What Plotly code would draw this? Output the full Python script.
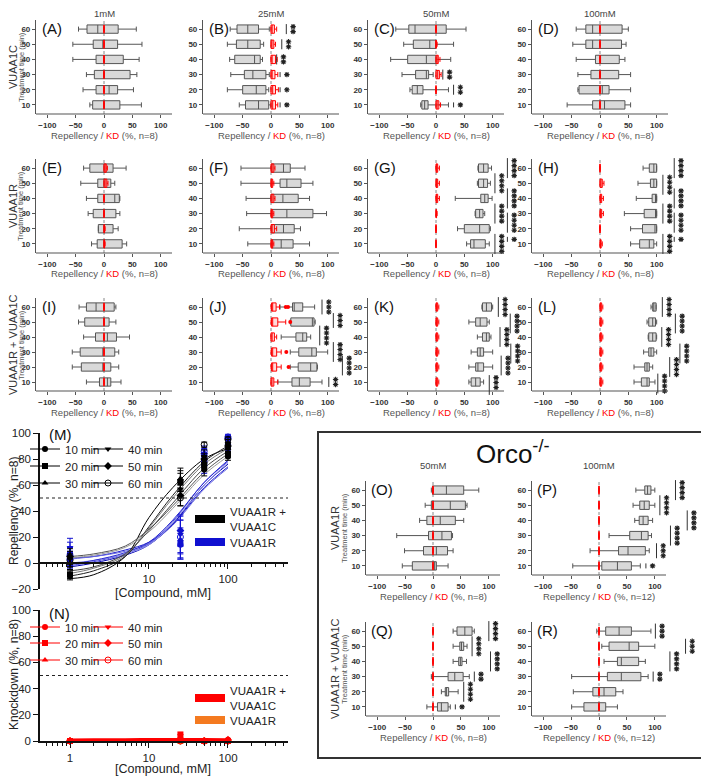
import plotly.graph_objects as go

W, H = 709, 778
OFF = 8                    # page margin around the plot div
times = [10, 20, 30, 40, 50, 60]
xticks = [-100, -50, 0, 50, 100]
XAX = [-120, 120]          # visible x axis
XR = [-120, 175]           # plotted x range (room for significance marks)
YR = [4, 66]

# ── box data: rows are 10..60 min, each [min, q1, median, q3, max] ──
rep_A = [[-25, -20, 0, 28, 66], [-37, -14, 9, 24, 52], [-31, -17, 0, 46, 58],
         [-55, -14, 0, 34, 62], [-55, -19, -2, 24, 67], [-45, -30, -11, 25, 57]]
rep_B = [[-56, -45, -22, -4, 0], [-77, -50, -26, -9, -4], [-71, -47, -32, -9, -3],
         [-73, -64, -29, -19, -15], [-77, -61, -41, -19, -13], [-72, -60, -41, -22, -3]]
rep_C = [[-27, -25, -20, -14, 22], [-46, -42, -33, -23, 22], [-60, -36, -17, -13, -5],
         [-80, -50, -17, 0, 26], [-57, -40, -11, 0, 31], [-71, -48, -37, 18, 53]]
rep_D = [[-58, -13, 8, 44, 54], [-39, -37, 4, 16, 54], [-39, -16, 0, 33, 54],
         [-42, -8, 1, 34, 44], [-48, -25, -13, 38, 46], [-42, -25, -13, 39, 50]]
rep_E = [[-22, -12, 0, 32, 40], [-10, -10, 0, 16, 25], [-28, -19, 0, 21, 28],
         [-31, -11, 19, 27, 28], [-41, -11, 0, 12, 19], [-36, -25, 0, 16, 39]]
rep_F = [[-41, 2, 18, 39, 68], [-56, 1, 22, 41, 52], [-43, 1, 28, 74, 98],
         [-44, 0, 21, 48, 68], [-53, 16, 28, 53, 74], [-53, 1, 22, 34, 60]]
rep_G = [[54, 61, 67, 87, 94], [38, 50, 77, 94, 96], [69, 70, 77, 83, 86],
         [34, 79, 86, 92, 99], [73, 75, 84, 91, 96], [74, 75, 84, 92, 98]]
rep_H = [[54, 70, 87, 95, 100], [54, 75, 97, 100, 100], [43, 78, 98, 100, 100],
         [64, 92, 98, 100, 100], [67, 89, 95, 100, 100], [76, 87, 95, 100, 100]]
rep_I = [[-31, -8, 6, 12, 30], [-56, -40, -2, 12, 26], [-56, -42, -2, 19, 26],
         [-36, -15, 6, 22, 45], [-45, -34, 0, 9, 21], [-44, -31, -14, 18, 21]]
rep_J = [[12, 37, 50, 69, 90], [34, 48, 70, 81, 82], [34, 49, 72, 80, 100],
         [18, 44, 56, 63, 70], [34, 35, 73, 76, 78], [16, 38, 41, 56, 77]]
rep_K = [[58, 62, 70, 78, 84], [58, 70, 74, 84, 100], [62, 73, 78, 84, 100],
         [73, 82, 89, 94, 97], [58, 70, 78, 90, 94], [81, 82, 89, 98, 100]]
rep_L = [[60, 73, 83, 87, 97], [60, 79, 83, 87, 93], [77, 86, 90, 95, 100],
         [85, 86, 93, 99, 100], [83, 86, 93, 98, 100], [90, 93, 95, 99, 99]]
rep_O = [[-55, -37, 3, 6, 27], [-51, -17, 6, 26, 36], [-65, -8, 16, 33, 35],
         [-24, -11, 13, 40, 55], [-14, -3, 31, 58, 61], [-3, -1, 24, 55, 82]]
rep_P = [[-47, 5, 33, 58, 74], [-16, 35, 52, 83, 90], [18, 55, 76, 88, 94],
         [64, 72, 79, 88, 96], [61, 73, 81, 90, 100], [66, 82, 87, 93, 100]]
rep_Q = [[-11, 8, 15, 27, 31], [15, 22, 24, 28, 45], [-3, 27, 39, 54, 65],
         [36, 46, 49, 52, 60], [36, 48, 51, 55, 61], [36, 43, 57, 70, 74]]
rep_R = [[-49, -27, 0, 12, 33], [-46, -11, 9, 30, 43], [-49, 15, 40, 75, 88],
         [9, 33, 40, 71, 83], [5, 18, 54, 71, 100], [-4, 12, 36, 58, 93]]

# knockdown (KD) boxes, same layout
kd_none = [[0, 0, 0, 0, 0]] * 6
kd_B = [[0, 0, 3, 8, 12], [0, 0, 3, 8, 13], [0, 0, 2, 7, 12],
        [0, 0, 2, 8, 11], [0, 0, 1, 5, 8], [0, 0, 2, 6, 10]]
kd_C = [[0, 0, 2, 5, 8], [0, 0, 0, 0, 0], [0, 0, 3, 6, 9],
        [0, 0, 2, 4, 7], [0, 0, 0, 0, 2], [0, 0, 0, 0, 0]]
kd_E = [[0, 0, 0, 1, 2], [0, 0, 0, 1, 2], [0, 0, 0, 0, 0],
        [0, 0, 0, 0, 0], [0, 0, 2, 5, 7], [0, 0, 2, 4, 6]]
kd_F = [[0, 0, 1, 3, 5], [0, 0, 2, 6, 10], [0, 0, 1, 3, 5],
        [0, 0, 2, 5, 7], [0, 0, 1, 3, 5], [0, 0, 2, 5, 7]]
kd_G = [[0, 0, 0, 0, 0], [0, 0, 0, 0, 0], [0, 0, 0, 1, 2],
        [0, 0, 1, 3, 6], [0, 0, 1, 3, 6], [0, 0, 1, 3, 6]]
kd_H = [[0, 0, 1, 2, 4], [0, 0, 0, 0, 0], [0, 0, 1, 3, 6],
        [0, 0, 1, 3, 6], [0, 0, 1, 4, 7], [0, 0, 0, 0, 0]]
kd_J = [[0, 0, 1, 5, 12], [0, 1, 3, 10, 18], [0, 1, 3, 10, 18],
        [0, 0, 2, 6, 10], [0, 1, 3, 12, 26], [0, 1, 3, 9, 15]]
kd_KL = [[0, 0, 1, 3, 5]] * 6
kd_J_out_x = [26, 30, 34, 27, 31]
kd_J_out_y = [60, 60, 50, 30, 20]

# significance marks: (time, x of bar, stars)
stars_B = [(10, 16, '*'), (20, 16, '*'), (30, 16, '*'), (40, 10, '**'), (50, 19, '**'), (60, 27, '**')]
stars_C = [(10, 31, '*'), (20, 31, '**'), (30, 12, '**')]
stars_G = [(60, 126, '****'), (50, 104, '****'), (40, 126, '****'), (30, 104, '****'),
           (24, 126, '****'), (10, 104, '****'), (13, 126, '*')]
stars_H = [(60, 131, '****'), (49, 111, '****'), (40, 131, '****'), (30, 111, '****'),
           (24, 131, '****'), (10, 111, '****'), (13, 131, '*')]
stars_J = [(60, 90, '***'), (51, 110, '***'), (41, 86, '****'), (30, 110, '****'),
           (21, 126, '****'), (10, 102, '**')]
stars_K = [(60, 110, '****'), (49, 131, '****'), (40, 113, '****'), (29, 132, '****'),
           (21, 115, '****'), (8, 94, '****')]
stars_L = [(60, 110, '****'), (49, 133, '****'), (40, 109, '****'), (29, 141, '****'),
           (20, 123, '****'), (9, 102, '****')]
stars_P = [(60, 137, '****'), (50, 109, '****'), (40, 158, '****'), (30, 128, '****'),
           (20, 103, '***'), (10, 84, '*')]
stars_Q = [(60, 100, '****'), (50, 70, '****'), (40, 103, '****'), (30, 74, '**'),
           (20, 55, '****'), (10, 40, '*')]
stars_R = [(60, 101, '***'), (50, 155, '***'), (40, 127, '****'), (30, 97, '**')]

# ── dose-response (M, N) ──
conc = [1, 25, 50, 100]
time_labels = ['10 min', '20 min', '30 min', '40 min', '50 min', '60 min']
symbols = ['circle', 'square', 'triangle-up', 'triangle-down', 'diamond', 'circle-open']
combo_mean = [[-10, 63, 72, 82], [-9, 62, 75, 84], [0, 65, 78, 88],
              [3, 57, 82, 92], [5, 52, 80, 90], [2, 50, 91, 95]]
combo_err = [[3, 8, 5, 3], [3, 7, 4, 3], [5, 8, 4, 3], [6, 7, 5, 3], [6, 8, 4, 2], [5, 6, 2, 2]]
r_mean = [[2, 14, 75, 88], [5, 15, 78, 90], [8, 18, 80, 92],
          [12, 22, 82, 94], [3, 25, 84, 96], [6, 20, 86, 97]]
r_err = [[6, 10, 6, 4], [7, 12, 5, 4], [8, 15, 5, 3], [7, 14, 5, 3], [6, 12, 4, 2], [6, 13, 4, 2]]
curve_x = [1, 2, 5, 10, 20, 50, 100]
combo_curves = [[-12, -9, 5, 35, 58, 80, 88], [-10, -6, 5, 28, 52, 78, 90],
                [5, 7, 13, 26, 44, 70, 84], [-8, -4, 6, 27, 50, 76, 88],
                [4, 6, 12, 24, 42, 68, 82], [-6, -3, 7, 25, 46, 73, 86]]
r_curves = [[-3, 0, 6, 14, 30, 60, 76], [4, 5, 10, 16, 30, 58, 74],
            [-2, 1, 7, 15, 32, 62, 78], [3, 5, 9, 15, 29, 57, 73],
            [0, 2, 7, 14, 31, 60, 77], [-1, 2, 8, 16, 33, 62, 79]]
combo_kd = [[0, 1, 0, 1], [0, 5, 0, 0], [0, 3, 0, 0], [0, 4, 1, 0], [0, 2, 0, 1], [0, 0, 0, 0]]
r_kd = [[0, 0, 0, 0]] * 6
kd_curve_combo = [0.8, 0.9, 1.0, 1.1, 1.2, 1.1, 1.0]
kd_curve_r = [0.2, 0.2, 0.3, 0.3, 0.3, 0.3, 0.3]

combo_colors = ['#000000', '#222222', '#555555', '#777777', '#999999', '#444444']
r_colors = ['#0000b0', '#1a1acc', '#4040dd', '#6666e0', '#8c8ce8', '#2a2ad0']

# ── geometry helpers (page pixels -> paper) ──
def fx(px):
    return (px - OFF) / W

def fy(py):
    return 1 - (py - OFF) / H

def xid(n):
    return 'x' if n == 1 else f'x{n}'

def yid(n):
    return 'y' if n == 1 else f'y{n}'

def dy(t):
    return (t - YR[0]) / (YR[1] - YR[0])

def label(text, px, py, size, color='#333', angle=0, xa='center', ya='middle'):
    return dict(text=text, xref='paper', yref='paper', x=fx(px), y=fy(py), textangle=angle,
                xanchor=xa, yanchor=ya, showarrow=False, font=dict(size=size, color=color))

fig = go.Figure()
layout = dict(template='none', width=W, height=H, margin=dict(l=0, r=0, t=0, b=0, autoexpand=False),
              plot_bgcolor='rgba(0,0,0,0)', paper_bgcolor='white', showlegend=True,
              font=dict(family='Arial, Liberation Sans, sans-serif', color='#333'))
shapes, annotations = [], []

AX = '#555'
KD_TITLE = "Repellency / <span style='color:red'>KD</span> (%, n={})"
STAR_STEP = 3.3    # minutes between stacked stars
STAR_GAP = 12      # x offset of stars from their bar

# (axis n, letter, rep, kd, stars, zero px, top px, bottom px, n label)
panels = [
    (1, 'A', rep_A, kd_none, [], 104, 20, 114, 8),
    (2, 'B', rep_B, kd_B, stars_B, 271, 20, 114, 8),
    (3, 'C', rep_C, kd_C, stars_C, 436, 20, 114, 8),
    (4, 'D', rep_D, kd_none, [], 600, 20, 114, 8),
    (5, 'E', rep_E, kd_E, [], 104, 159, 253, 8),
    (6, 'F', rep_F, kd_F, [], 271, 159, 253, 8),
    (7, 'G', rep_G, kd_G, stars_G, 436, 159, 253, 8),
    (8, 'H', rep_H, kd_H, stars_H, 600, 159, 253, 8),
    (9, 'I', rep_I, kd_none, [], 104, 298, 391, 8),
    (10, 'J', rep_J, kd_J, stars_J, 271, 298, 391, 8),
    (11, 'K', rep_K, kd_KL, stars_K, 436, 298, 391, 8),
    (12, 'L', rep_L, kd_KL, stars_L, 600, 298, 391, 8),
    (13, 'O', rep_O, kd_none, [], 433, 481, 575, 8),
    (14, 'P', rep_P, kd_none, stars_P, 599, 481, 575, 12),
    (15, 'Q', rep_Q, kd_none, stars_Q, 433, 622, 716, 8),
    (16, 'R', rep_R, kd_none, stars_R, 599, 622, 716, 12),
]

def box(n, data, fill, color, width):
    return go.Box(y=times, lowerfence=[d[0] for d in data], q1=[d[1] for d in data],
                  median=[d[2] for d in data], q3=[d[3] for d in data],
                  upperfence=[d[4] for d in data], orientation='h',
                  xaxis=xid(n), yaxis=yid(n), fillcolor=fill,
                  line=dict(color=color, width=width), whiskerwidth=0.6, width=5.5,
                  boxpoints=False, showlegend=False, hoverinfo='skip')

for n, letter, rep, kd, stars, zero, top, bot, nn in panels:
    ppu = (68 if n < 13 else 67) / 120.0      # pixels per % unit
    fig.add_trace(box(n, rep, '#d9d9d9', '#555', 1))
    fig.add_trace(box(n, kd, 'rgba(255,150,150,0.35)', 'red', 1))
    layout['xaxis' + ('' if n == 1 else str(n))] = dict(
        domain=[fx(zero + XR[0] * ppu), fx(zero + XR[1] * ppu)], range=XR, anchor=yid(n),
        tickvals=xticks, showline=False, ticks='outside', automargin=False,
        ticklen=3, tickcolor=AX, tickwidth=1.2, showgrid=False, zeroline=False,
        tickfont=dict(size=8, color='#333', weight='bold'))
    layout['yaxis' + ('' if n == 1 else str(n))] = dict(
        domain=[fy(bot), fy(top)], range=YR, anchor=xid(n), tickvals=times,
        showline=True, linecolor=AX, linewidth=1.2, ticks='outside', ticklen=3,
        tickcolor=AX, tickwidth=1.2, showgrid=False, zeroline=False, automargin=False,
        tickfont=dict(size=8, color='#333', weight='bold'))
    # visible part of the x axis
    shapes.append(dict(type='line', xref=xid(n), yref=yid(n) + ' domain', x0=XAX[0], x1=XAX[1],
                       y0=0, y1=0, line=dict(color=AX, width=1.2)))
    shapes.append(dict(type='line', xref=xid(n), yref=yid(n) + ' domain', x0=0, x1=0,
                       y0=0, y1=1, line=dict(color='#888', width=1, dash='dot'), layer='below'))
    annotations.append(dict(text=KD_TITLE.format(nn), xref=xid(n), yref=yid(n) + ' domain',
                            x=0, y=0, yshift=-21, xanchor='center', yanchor='middle',
                            showarrow=False, font=dict(size=9.5, color='#555')))
    annotations.append(label(f'({letter})', zero - 68 + 4, top - 2, 15, '#111', xa='left', ya='top'))
    sx, sy = [], []
    for t, xv, s in stars:
        L = len(s) * STAR_STEP
        shapes.append(dict(type='line', xref=xid(n), yref=yid(n) + ' domain',
                           x0=xv, x1=xv, y0=dy(t - L / 2), y1=dy(t + L / 2),
                           line=dict(color='#333', width=1)))
        for j in range(len(s)):
            sx.append(xv + STAR_GAP)
            sy.append(t + (j - (len(s) - 1) / 2) * STAR_STEP)
    if sx:
        fig.add_trace(go.Scatter(x=sx, y=sy, mode='markers', xaxis=xid(n), yaxis=yid(n),
                                 marker=dict(symbol='asterisk-open', size=4.5, color='#222',
                                             line=dict(color='#222', width=1.1)),
                                 cliponaxis=False, showlegend=False, hoverinfo='skip'))

fig.add_trace(go.Scatter(x=kd_J_out_x, y=kd_J_out_y, mode='markers', xaxis='x10', yaxis='y10',
                         marker=dict(color='red', size=4), showlegend=False, hoverinfo='skip'))

# column and row labels
for txt, px, py in [('1mM', 104, 14), ('25mM', 271, 14), ('50mM', 436, 14), ('100mM', 600, 14),
                    ('50mM', 433, 465), ('100mM', 599, 465)]:
    annotations.append(label(txt, px, py, 9.5, '#444'))

for big, px_big, px_small, py in [('VUAA1C', 13, 21, 67), ('VUAA1R', 13, 21, 206),
                                  ('VUAA1R + VUAA1C', 13, 21, 345),
                                  ('VUAA1R', 335, 344, 528), ('VUAA1R + VUAA1C', 335, 344, 669)]:
    annotations.append(label(big, px_big, py, 11, '#333', angle=-90))
    annotations.append(label('Treatment time (min)', px_small, py, 7.5, '#555', angle=-90))

# Orco frame
shapes.append(dict(type='rect', xref='paper', yref='paper', x0=fx(318), x1=fx(707),
                   y0=fy(758), y1=fy(432), line=dict(color='#333', width=2)))
annotations.append(label('Orco<sup>-/-</sup>', 513, 452, 26, '#111'))

# ── M: repellency dose-response ──
MR = [-20, 100]
for i in range(6):
    fig.add_trace(go.Scatter(x=curve_x, y=r_curves[i], mode='lines', line_shape='spline',
                             line=dict(color=r_colors[i], width=1),
                             xaxis='x17', yaxis='y17', showlegend=False, hoverinfo='skip'))
for i in range(6):
    fig.add_trace(go.Scatter(x=curve_x, y=combo_curves[i], mode='lines', line_shape='spline',
                             line=dict(color=combo_colors[i], width=1),
                             xaxis='x17', yaxis='y17', showlegend=False, hoverinfo='skip'))
for i in range(6):
    fig.add_trace(go.Scatter(x=conc, y=r_mean[i], mode='markers', xaxis='x17', yaxis='y17',
                             marker=dict(symbol=symbols[i], color='#1010d0', size=6),
                             error_y=dict(array=r_err[i], color='#1010d0', thickness=1, width=3),
                             showlegend=False, hoverinfo='skip', cliponaxis=False))
for i in range(6):
    fig.add_trace(go.Scatter(x=conc, y=combo_mean[i], mode='markers', xaxis='x17', yaxis='y17',
                             marker=dict(symbol=symbols[i], color='black', size=6),
                             error_y=dict(array=combo_err[i], color='black', thickness=1, width=3),
                             showlegend=False, hoverinfo='skip', cliponaxis=False))

# ── N: knockdown dose-response ──
fig.add_trace(go.Scatter(x=curve_x, y=kd_curve_r, mode='lines', line_shape='spline',
                         line=dict(color='#f47a20', width=3), xaxis='x18', yaxis='y18',
                         showlegend=False, hoverinfo='skip', cliponaxis=False))
for i in range(6):
    fig.add_trace(go.Scatter(x=conc, y=r_kd[i], mode='markers', xaxis='x18', yaxis='y18',
                             marker=dict(symbol=symbols[i], color='#f47a20', size=6),
                             showlegend=False, hoverinfo='skip', cliponaxis=False))
fig.add_trace(go.Scatter(x=curve_x, y=kd_curve_combo, mode='lines', line_shape='spline',
                         line=dict(color='red', width=3), xaxis='x18', yaxis='y18',
                         showlegend=False, hoverinfo='skip', cliponaxis=False))
for i in range(6):
    fig.add_trace(go.Scatter(x=conc, y=combo_kd[i], mode='markers', xaxis='x18', yaxis='y18',
                             marker=dict(symbol=symbols[i], color='red', size=6),
                             showlegend=False, hoverinfo='skip', cliponaxis=False))

# ── legends: one small legend per entry so rows sit where the original has them ──
leg = dict(bgcolor='rgba(0,0,0,0)', font=dict(size=11.5, color='#222'), itemwidth=30,
           tracegroupgap=0, xanchor='left', yanchor='middle')
TEXT_GAP = 40      # plotly puts legend text this far right of the legend's left edge
legend_slots = []
for color, rows in [('black', [449, 466, 483]), ('red', [627, 643, 660])]:
    for i in range(6):
        legend_slots.append((time_labels[i], color, symbols[i], 'lines+markers',
                             65 if i < 3 else 128, rows[i % 3]))
for name, color, py in [('VUAA1R +<br>VUAA1C', 'black', 519), ('VUAA1R', '#1010d0', 542),
                        ('VUAA1R +<br>VUAA1C', 'red', 698), ('VUAA1R', '#f47a20', 720)]:
    legend_slots.append((name, color, None, 'lines', 230, py))

for k, (name, color, sym, mode, tx, py) in enumerate(legend_slots):
    lg = 'legend' if k == 0 else f'legend{k + 1}'
    if mode == 'lines':
        tr = go.Scatter(x=[None], y=[None], mode='lines', name=name,
                        line=dict(color=color, width=8))
    else:
        tr = go.Scatter(x=[None], y=[None], mode=mode, name=name,
                        marker=dict(symbol=sym, color=color, size=6),
                        line=dict(color=color, width=1))
    tr.update(legend=lg, xaxis='x17', yaxis='y17')
    fig.add_trace(tr)
    layout[lg] = dict(leg, x=fx(tx - TEXT_GAP), y=fy(py))

minor_vals = [0.5, 0.6, 0.7, 0.8, 0.9, 2, 3, 4, 5, 6, 7, 8, 9, 20, 30, 40, 50, 60, 70, 80, 90,
              200, 300, 400, 500]
xlog = dict(type='log', range=[-0.38, 2.76], showline=True, linecolor='#111', linewidth=1.5,
            ticks='outside', ticklen=5, tickcolor='#111', showgrid=False, zeroline=False,
            automargin=False, tickfont=dict(size=11.5, color='#222'),
            minor=dict(tickvals=minor_vals, ticks='outside', ticklen=3, tickcolor='#111'))
ylin = dict(showline=True, linecolor='#111', linewidth=1.5, ticks='outside', ticklen=5,
            tickcolor='#111', showgrid=False, zeroline=False, automargin=False,
            tickfont=dict(size=11.5, color='#222'))
m_bot, m_top = fy(589), fy(433)
layout['xaxis17'] = dict(xlog, domain=[fx(40), fx(288)], anchor='free',
                         position=m_bot + (0 - MR[0]) / (MR[1] - MR[0]) * (m_top - m_bot),
                         tickvals=[10, 100], ticktext=['10', '100'])
layout['yaxis17'] = dict(ylin, domain=[m_bot, m_top], range=MR, anchor='x17',
                         tickvals=[-20, 0, 20, 40, 60, 80, 100])
layout['xaxis18'] = dict(xlog, domain=[fx(40), fx(288)], anchor='y18',
                         tickvals=[1, 10, 100], ticktext=['1', '10', '100'])
layout['yaxis18'] = dict(ylin, domain=[fy(741), fy(610)], range=[0, 100], anchor='x18',
                         tickvals=[0, 20, 40, 60, 80, 100])
for n in (17, 18):
    shapes.append(dict(type='line', xref=f'x{n} domain', yref=f'y{n}', x0=0, x1=1, y0=50, y1=50,
                       line=dict(color='#222', width=1.2, dash='dot')))
annotations.append(label('[Compound, mM]', 163, 593, 12.5, '#222'))
annotations.append(label('[Compound, mM]', 163, 769, 12.5, '#222'))
annotations.append(label('Repellency (%, n=8)', 14, 511, 12, '#222', angle=-90))
annotations.append(label('Knockdown (%, n=8)', 14, 675, 12, '#222', angle=-90))
annotations.append(label('(M)', 47, 424, 15, '#111', xa='left', ya='top'))
annotations.append(label('(N)', 47, 603, 15, '#111', xa='left', ya='top'))

layout['shapes'] = shapes
layout['annotations'] = annotations
fig.update_layout(**layout)
fig.write_html('out.html')
